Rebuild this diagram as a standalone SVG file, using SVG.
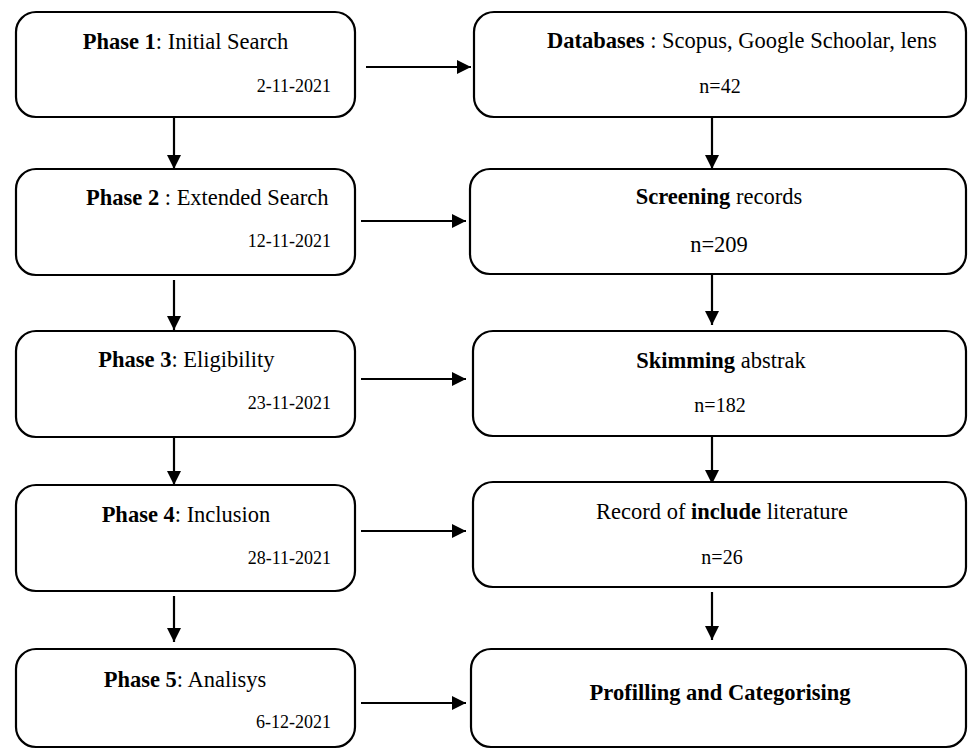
<svg xmlns="http://www.w3.org/2000/svg" width="968" height="750" viewBox="0 0 968 750" font-family="'Liberation Serif', serif">
<style>
.box{fill:#fff;stroke:#000;stroke-width:2.2}
text{font-family:'Liberation Serif',serif;fill:#000}
.t{font-size:22.5px}
.d{font-size:18px;text-anchor:end}
.n{font-size:20px;text-anchor:middle}
.c{text-anchor:middle}
.b{font-weight:bold}
.con{stroke:#000;stroke-width:2.2;fill:none;marker-end:url(#ah)}
</style>
<defs>
<marker id="ah" markerUnits="userSpaceOnUse" markerWidth="14" markerHeight="14" viewBox="0 0 14 14" refX="14" refY="7" orient="auto">
<path d="M0,0 L14,7 L0,14 Z" fill="#000"/>
</marker>
</defs>
<rect width="968" height="750" fill="#fff"/>
<g id="connectors">
<line class="con" x1="366" y1="67" x2="471" y2="67"/>
<line class="con" x1="361" y1="221" x2="466" y2="221"/>
<line class="con" x1="361" y1="379" x2="466" y2="379"/>
<line class="con" x1="361" y1="531" x2="466" y2="531"/>
<line class="con" x1="361" y1="703" x2="466" y2="703"/>
<line class="con" x1="174" y1="118" x2="174" y2="169"/>
<line class="con" x1="174" y1="280" x2="174" y2="330"/>
<line class="con" x1="174" y1="438" x2="174" y2="485"/>
<line class="con" x1="174" y1="596" x2="174" y2="642"/>
<line class="con" x1="712" y1="118" x2="712" y2="169"/>
<line class="con" x1="712" y1="275" x2="712" y2="325"/>
<line class="con" x1="712" y1="437" x2="712" y2="484"/>
<line class="con" x1="712" y1="592" x2="712" y2="640"/>
</g>
<g id="phase1">
<rect class="box" x="16" y="12" width="339" height="105" rx="20"/>
<text class="t c" x="185.5" y="49"><tspan class="b">Phase 1</tspan>: Initial Search</text>
<text class="d" x="331" y="92">2-11-2021</text>
</g>
<g id="phase2">
<rect class="box" x="16" y="169" width="339" height="106" rx="20"/>
<text class="t" x="86" y="205"><tspan class="b">Phase 2</tspan> : Extended Search</text>
<text class="d" x="331" y="247">12-11-2021</text>
</g>
<g id="phase3">
<rect class="box" x="16" y="331" width="339" height="106" rx="20"/>
<text class="t c" x="186.5" y="367"><tspan class="b">Phase 3</tspan>: Eligibility</text>
<text class="d" x="331" y="409">23-11-2021</text>
</g>
<g id="phase4">
<rect class="box" x="16" y="485" width="339" height="106" rx="20"/>
<text class="t c" x="186" y="522"><tspan class="b">Phase 4</tspan>: Inclusion</text>
<text class="d" x="331" y="564">28-11-2021</text>
</g>
<g id="phase5">
<rect class="box" x="16" y="649" width="339" height="98" rx="20"/>
<text class="t c" x="185" y="687"><tspan class="b">Phase 5</tspan>: Analisys</text>
<text class="d" x="331" y="728">6-12-2021</text>
</g>
<g id="databases">
<rect class="box" x="474" y="12" width="492" height="105" rx="20"/>
<text class="t" x="547" y="48"><tspan class="b">Databases</tspan> : Scopus, Google Schoolar, lens</text>
<text class="n" x="720" y="93">n=42</text>
</g>
<g id="screening">
<rect class="box" x="470" y="169" width="496" height="105" rx="20"/>
<text class="t c" x="719" y="204"><tspan class="b">Screening</tspan> records</text>
<text class="t c" x="719" y="252">n=209</text>
</g>
<g id="skimming">
<rect class="box" x="473" y="331" width="493" height="105" rx="20"/>
<text class="t c" x="721" y="368"><tspan class="b">Skimming</tspan> abstrak</text>
<text class="n" x="720" y="412">n=182</text>
</g>
<g id="include">
<rect class="box" x="473" y="482" width="493" height="105" rx="20"/>
<text class="t c" x="722" y="519">Record of <tspan class="b">include</tspan> literature</text>
<text class="n" x="722" y="564">n=26</text>
</g>
<g id="profiling">
<rect class="box" x="471" y="649" width="495" height="98" rx="20"/>
<text class="t c b" x="720" y="700">Profilling and Categorising</text>
</g>
</svg>
